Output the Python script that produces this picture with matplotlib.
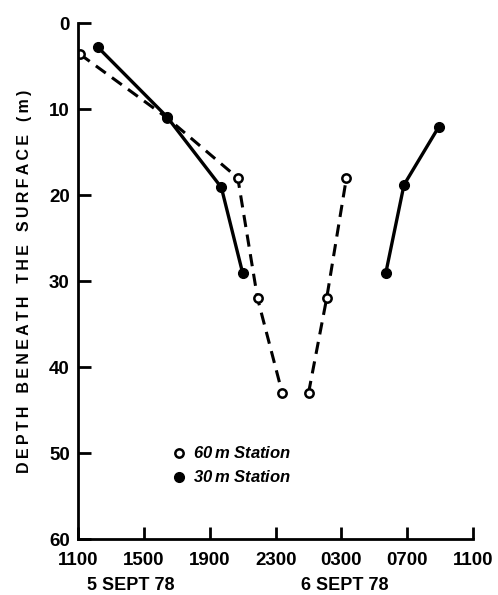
import matplotlib
matplotlib.use("Agg")
import matplotlib.pyplot as plt

# hours after 1100 on 5 Sept 78, depth in metres
st60_down_hours = [0.1, 5.4, 9.7, 10.9, 12.4]
st60_down_depth = [3.6, 11.0, 18.0, 32.0, 43.0]
st60_up_hours = [14.0, 15.1, 16.3]
st60_up_depth = [43.0, 32.0, 18.0]

st30_a_hours = [1.2, 5.4, 8.7, 10.0]
st30_a_depth = [2.8, 10.9, 19.1, 29.1]
st30_b_hours = [18.7, 19.8, 21.9]
st30_b_depth = [29.0, 18.8, 12.1]

tick_hours = [0, 4, 8, 12, 16, 20, 24]
tick_labels = ["1100", "1500", "1900", "2300", "0300", "0700", "1100"]
depth_ticks = [0, 10, 20, 30, 40, 50, 60]

plt.rcParams['font.family'] = ['Liberation Sans', 'DejaVu Sans']

fig = plt.figure(figsize=(4.98, 5.95), dpi=100)
ax = fig.add_axes([0.157, 0.094, 0.793, 0.867])

dash = dict(color='black', lw=2.2, dashes=(4, 2.5), marker='o', ms=6,
            mfc='white', mec='black', mew=1.8)
ax.plot(st60_down_hours, st60_down_depth, **dash)
ax.plot(st60_up_hours, st60_up_depth, **dash)

solid = dict(color='black', lw=2.4, marker='o', ms=7, mfc='black', mec='black')
ax.plot(st30_a_hours, st30_a_depth, **solid)
ax.plot(st30_b_hours, st30_b_depth, **solid)

ax.set_xlim(0, 24)
ax.set_ylim(60, 0)
ax.set_xticks(tick_hours)
ax.set_xticklabels(tick_labels)
ax.set_yticks(depth_ticks)
for s in ['top', 'right']:
    ax.spines[s].set_visible(False)
for s in ['left', 'bottom']:
    ax.spines[s].set_linewidth(2)
ax.tick_params(direction='in', length=9, width=2, labelsize=13.5, pad=6)
ax.tick_params(axis='x', pad=9)
for lab in ax.get_xticklabels() + ax.get_yticklabels():
    lab.set_fontweight('bold')

# letter-spaced axis title
words = ["DEPTH", "BENEATH", "THE", "SURFACE", "(m)"]
spaced = "\u2009\u2009\u2009\u2009".join("\u2009".join(w) for w in words)
ax.set_ylabel(spaced, fontsize=11.5, fontweight='bold', labelpad=12)

fig.text(131 / 498, 0.002, "5 SEPT 78", ha='center', va='bottom',
         fontsize=13, fontweight='bold')
fig.text(345 / 498, 0.002, "6 SEPT 78", ha='center', va='bottom',
         fontsize=13, fontweight='bold')

# legend drawn by hand
ax.plot([6.1], [50.0], 'o', ms=6, mfc='white', mec='black', mew=1.8)
ax.plot([6.1], [52.8], 'o', ms=7, mfc='black', mec='black')
ax.text(7.0, 50.0, "60$\\,$m Station", fontsize=12, fontweight='bold',
        style='italic', va='center')
ax.text(7.0, 52.8, "30$\\,$m Station", fontsize=12, fontweight='bold',
        style='italic', va='center')

fig.savefig("out.png", dpi=100)
